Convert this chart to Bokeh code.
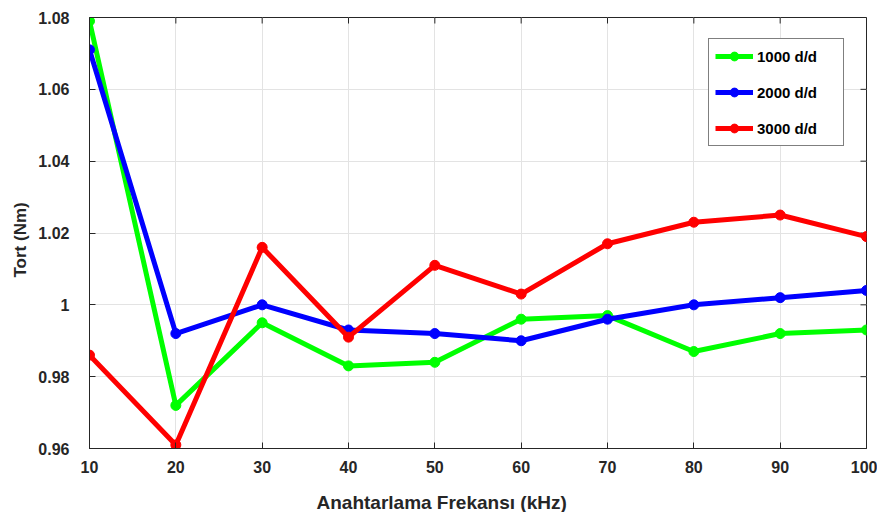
import math
from bokeh.plotting import figure
from bokeh.models import Legend, LegendItem, FixedTicker, Title
from bokeh.embed import file_html
from bokeh.resources import INLINE

freq = [10, 20, 30, 40, 50, 60, 70, 80, 90, 100]
tork_1000 = [1.079, 0.972, 0.995, 0.983, 0.984, 0.996, 0.997, 0.987, 0.992, 0.993]
tork_2000 = [1.071, 0.992, 1.000, 0.993, 0.992, 0.990, 0.996, 1.000, 1.002, 1.004]
tork_3000 = [0.986, 0.961, 1.016, 0.991, 1.011, 1.003, 1.017, 1.023, 1.025, 1.019]
labels = ["1000 d/d", "2000 d/d", "3000 d/d"]
colors = ["#00ff00", "#0000ff", "#ff0000"]
y_ticks = [0.96, 0.98, 1.0, 1.02, 1.04, 1.06, 1.08]
y_tick_labels = {0.96: "0.96", 0.98: "0.98", 1.0: "1", 1.02: "1.02", 1.04: "1.04", 1.06: "1.06", 1.08: "1.08"}
x_title = "Anahtarlama Frekansı (kHz)"
y_title = "Tort (Nm)"
x_min, x_max = 10, 100
y_min, y_max = 0.96, 1.08

FONT = "Liberation Sans"
DARK = "#262626"

p = figure(frame_width=777, frame_height=431, x_range=(x_min, x_max), y_range=(y_min, y_max),
           output_backend="svg", toolbar_location=None,
           min_border_left=89, min_border_top=17, min_border_right=11, min_border_bottom=0)
p.outline_line_color = DARK
p.outline_line_width = 1

xt = FixedTicker(ticks=freq)
yt = FixedTicker(ticks=y_ticks)

p.xgrid.ticker = xt
p.ygrid.ticker = yt
p.grid.grid_line_color = "#e3e3e3"
p.grid.grid_line_width = 1

# inward tick marks on the top and right edges of the box
p.ray(x=freq, y=[y_max] * len(freq), length=6, length_units="screen",
      angle=-math.pi / 2, line_color=DARK, line_width=1)
p.ray(x=[x_max] * len(y_ticks), y=y_ticks, length=6, length_units="screen",
      angle=math.pi, line_color=DARK, line_width=1)

items = []
for ys, lab, col in zip([tork_1000, tork_2000, tork_3000], labels, colors):
    r1 = p.line(freq, ys, line_color=col, line_width=5)
    r2 = p.scatter(freq, ys, size=10, fill_color=col, line_color=col)
    items.append(LegendItem(label=lab, renderers=[r1, r2]))

for ax in p.xaxis:
    ax.ticker = xt
for ax in p.yaxis:
    ax.ticker = yt
    ax.major_label_overrides = {k: v for k, v in y_tick_labels.items()}

for ax in list(p.xaxis) + list(p.yaxis):
    ax.major_tick_in = 6
    ax.major_tick_out = 0
    ax.minor_tick_in = 0
    ax.minor_tick_out = 0
    ax.axis_line_color = DARK
    ax.major_tick_line_color = DARK
    ax.major_label_text_font = FONT
    ax.major_label_text_font_style = "bold"
    ax.major_label_text_font_size = "16px"
    ax.major_label_text_color = DARK

p.xaxis.major_label_standoff = 12
p.yaxis.major_label_standoff = 20

xlab = Title(text=x_title, align="left", offset=227, standoff=28,
             text_font=FONT, text_font_style="bold", text_font_size="19px", text_color=DARK)
p.add_layout(xlab, "below")
ylab = Title(text=y_title, align="left", offset=171, standoff=12,
             text_font=FONT, text_font_style="bold", text_font_size="17px", text_color=DARK)
p.add_layout(ylab, "left")

legend = Legend(items=items, location=(619, 302), padding=6, spacing=14,
                label_height=22, glyph_height=22, glyph_width=38, label_standoff=4,
                label_width=80, border_line_color="#000000", border_line_width=1,
                label_text_font=FONT, label_text_font_style="bold", label_text_font_size="15px",
                label_text_color="#000000", background_fill_alpha=1.0)
p.add_layout(legend, "center")

open("out.html", "w").write(file_html(p, INLINE))
